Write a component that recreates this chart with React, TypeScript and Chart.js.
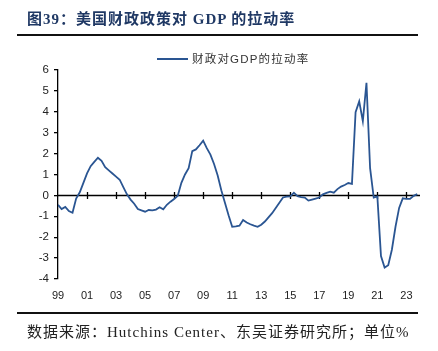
import React, { useEffect, useRef } from "react";
import { Chart, registerables } from "chart.js";

Chart.register(...registerables);

const TITLE = "图39：美国财政政策对 GDP 的拉动率";
const SOURCE = "数据来源：Hutchins Center、东吴证券研究所；单位%";
const SERIES_NAME = "财政对GDP的拉动率";

const START_YEAR = 1999;
const END_YEAR = 2023;
const Y_TICKS = [-4, -3, -2, -1, 0, 1, 2, 3, 4, 5, 6];
const X_TICK_YEARS = [1999, 2001, 2003, 2005, 2007, 2009, 2011, 2013, 2015, 2017, 2019, 2021, 2023];

// Quarterly values, 1999Q1 .. 2023Q4
const VALUES_1999_2005 = [
  -0.45, -0.65, -0.55, -0.75,
  -0.83, -0.15, 0.15, 0.6,
  1.05, 1.4, 1.6, 1.8,
  1.65, 1.35, 1.2, 1.05,
  0.9, 0.75, 0.4, 0.05,
  -0.2, -0.4, -0.65, -0.72,
  -0.78, -0.7, -0.72, -0.68,
];
const VALUES_2006_2012 = [
  -0.57, -0.67, -0.45, -0.3,
  -0.17, -0.02, 0.6, 1.0,
  1.3, 2.12, 2.2, 2.4,
  2.62, 2.26, 1.95, 1.5,
  0.95, 0.25, -0.35, -0.95,
  -1.5, -1.48, -1.45, -1.18,
  -1.3, -1.38, -1.45, -1.5,
];
const VALUES_2013_2018 = [
  -1.4, -1.25, -1.05, -0.85,
  -0.6, -0.35, -0.1, -0.06,
  -0.05, 0.13, -0.04, -0.08,
  -0.1, -0.25, -0.2, -0.15,
  -0.1, 0.05, 0.12, 0.18,
  0.13, 0.3, 0.42, 0.5,
];
const VALUES_2019_2023 = [
  0.59, 0.55, 3.98, 4.5,
  3.55, 5.39, 1.3, -0.1,
  -0.05, -2.9, -3.45, -3.34,
  -2.6, -1.5, -0.6, -0.14,
  -0.17, -0.17, -0.02, 0.06,
];

const VALUES = [...VALUES_1999_2005, ...VALUES_2006_2012, ...VALUES_2013_2018, ...VALUES_2019_2023];

const LINE_COLOR = "#2a5592";
const TITLE_COLOR = "#1f3864";

const zeroLinePlugin = {
  id: "zeroLine",
  beforeDatasetsDraw(chart: any) {
    const { ctx, chartArea, scales } = chart;
    const y = Math.round(scales.y.getPixelForValue(0)) + 0.5;
    ctx.save();
    ctx.strokeStyle = "#000";
    ctx.lineWidth = 1.3;
    ctx.beginPath();
    ctx.moveTo(chartArea.left, y);
    ctx.lineTo(chartArea.right + 2, y);
    X_TICK_YEARS.forEach((yr) => {
      if (yr === START_YEAR) return;
      const x = Math.round(scales.x.getPixelForValue(yr)) + 0.5;
      ctx.moveTo(x, y - 3.5);
      ctx.lineTo(x, y + 3.5);
    });
    ctx.stroke();
    ctx.restore();
  },
};

export default function App() {
  const ref = useRef<HTMLCanvasElement | null>(null);

  useEffect(() => {
    if (!ref.current) return;
    const points = VALUES.map((v, i) => ({ x: START_YEAR + i / 4, y: v }));
    const chart = new Chart(ref.current, {
      type: "line",
      data: {
        datasets: [
          {
            label: SERIES_NAME,
            data: points,
            borderColor: LINE_COLOR,
            borderWidth: 1.8,
            pointRadius: 0,
            tension: 0,
            fill: false,
          },
        ],
      },
      options: {
        animation: false,
        responsive: false,
        maintainAspectRatio: false,
        layout: { padding: { left: 0, right: 20, top: 70, bottom: 0 } },
        plugins: { legend: { display: false }, tooltip: { enabled: false }, title: { display: false } },
        scales: {
          x: {
            type: "linear",
            min: START_YEAR,
            max: END_YEAR + 0.8,
            afterBuildTicks: (scale: any) => {
              scale.ticks = X_TICK_YEARS.map((v) => ({ value: v }));
            },
            afterFit: (scale: any) => {
              scale.height = 72;
            },
            border: { display: false },
            grid: { display: false, drawTicks: false },
            ticks: {
              autoSkip: false,
              maxRotation: 0,
              padding: 10,
              color: "#222",
              font: { family: "'Liberation Sans', Arial, sans-serif", size: 11 },
              callback: (v: any) => String(Number(v) % 100).padStart(2, "0"),
            },
          },
          y: {
            min: -4,
            max: 6,
            afterBuildTicks: (scale: any) => {
              scale.ticks = Y_TICKS.map((v) => ({ value: v }));
            },
            afterFit: (scale: any) => {
              scale.width = 58;
            },
            border: { display: true, color: "#000", width: 1.3 },
            grid: { drawOnChartArea: false, drawTicks: true, tickLength: 4, color: "#000", lineWidth: 1.3 },
            ticks: {
              padding: 5,
              color: "#222",
              font: { family: "'Liberation Sans', Arial, sans-serif", size: 11.5 },
              callback: (v: any) => String(v),
            },
          },
        },
      },
      plugins: [zeroLinePlugin],
    } as any);
    return () => chart.destroy();
  }, []);

  return (
    <div style={{ position: "absolute", left: 0, top: 0, width: 438, height: 351, background: "#fff", overflow: "hidden" }}>
      <canvas ref={ref} width={438} height={351} style={{ position: "absolute", left: 0, top: 0, width: 438, height: 351 }} />
      <div
        style={{
          position: "absolute",
          left: 27,
          top: 9,
          fontFamily: "'Liberation Serif', 'Noto Sans CJK SC', serif",
          fontWeight: "bold",
          fontSize: 15,
          letterSpacing: "1px",
          lineHeight: "20px",
          color: TITLE_COLOR,
          whiteSpace: "nowrap",
        }}
      >
        {TITLE}
      </div>
      <div style={{ position: "absolute", left: 17, top: 34, width: 401, height: 2, background: "#111" }} />
      <div style={{ position: "absolute", left: 157, top: 58, width: 31, height: 2, background: LINE_COLOR }} />
      <div
        style={{
          position: "absolute",
          left: 192,
          top: 51,
          fontFamily: "'Liberation Sans', 'Noto Sans CJK SC', sans-serif",
          fontSize: 11.5,
          letterSpacing: "1.2px",
          lineHeight: "16px",
          color: "#333",
          whiteSpace: "nowrap",
        }}
      >
        {SERIES_NAME}
      </div>
      <div style={{ position: "absolute", left: 17, top: 312, width: 401, height: 2, background: "#111" }} />
      <div
        style={{
          position: "absolute",
          left: 27,
          top: 322,
          fontFamily: "'Liberation Serif', 'Noto Sans CJK SC', serif",
          fontSize: 15,
          letterSpacing: "1px",
          lineHeight: "20px",
          color: "#222",
          whiteSpace: "nowrap",
        }}
      >
        {SOURCE}
      </div>
    </div>
  );
}
